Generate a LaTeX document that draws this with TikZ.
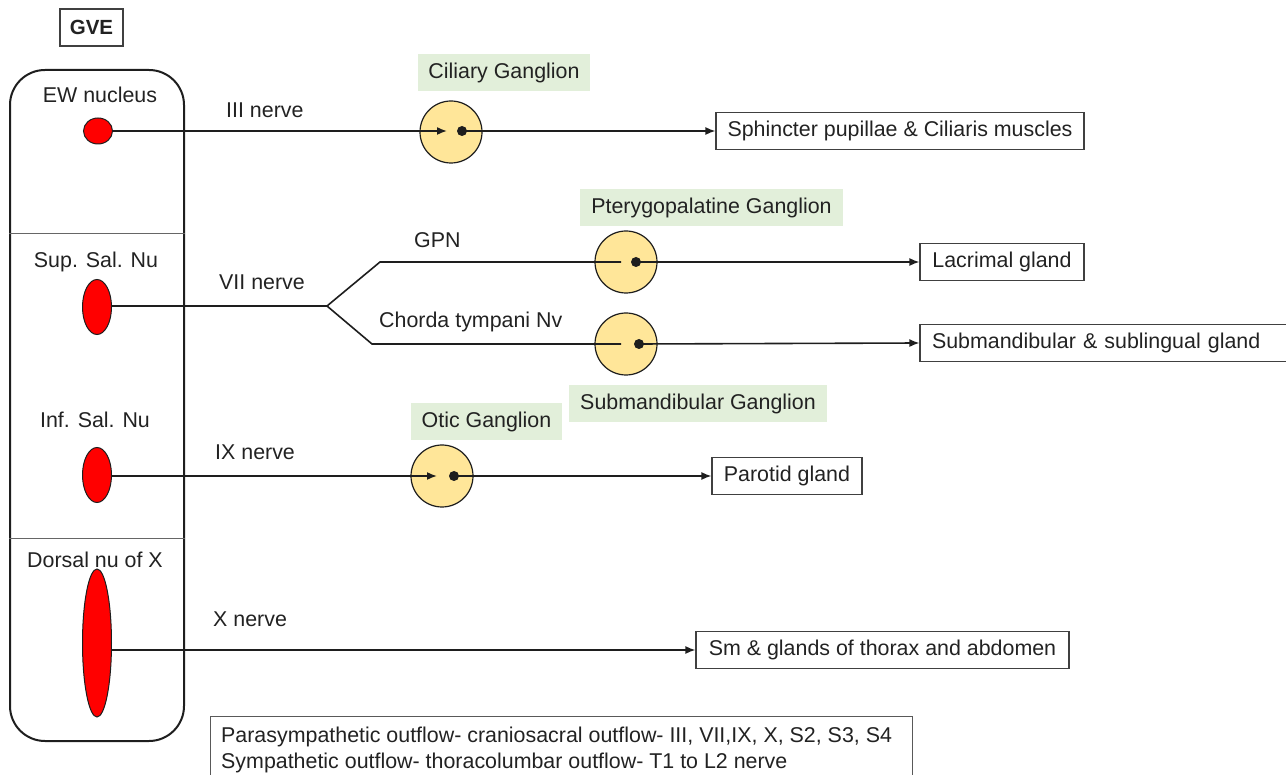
\documentclass[tikz,border=0pt]{standalone}
\usepackage{fontspec}
\setmainfont{Liberation Sans}
\usetikzlibrary{arrows.meta,shapes.geometric}
\definecolor{txt}{HTML}{222222}
\definecolor{lbl}{HTML}{E2EFDA}
\definecolor{gangfill}{HTML}{FFE699}
\definecolor{nred}{HTML}{FF0000}
\definecolor{ln}{HTML}{1E1E1E}
\begin{document}
\begin{tikzpicture}[x=1pt,y=-1pt,
  font=\fontsize{21.4}{25}\selectfont, text=txt,
  lab/.style={inner sep=0pt},
  outbox/.style={draw=ln!85, line width=1.1pt, inner sep=0pt, minimum height=37pt},
  glabel/.style={fill=lbl, inner sep=0pt, minimum height=37pt},
  gang/.style={circle, draw=ln, fill=gangfill, line width=1.2pt, minimum size=62pt, inner sep=0pt},
  nuc/.style={ellipse, draw=ln, fill=nred, line width=1pt, inner sep=0pt, minimum width=29pt},
  nerve/.style={line width=1.6pt, draw=ln},
  arr/.style={nerve, -{Latex[length=10pt,width=8pt]}},
  dotc/.style={circle, fill=ln, inner sep=0pt, minimum size=10pt},
  divider/.style={draw=black!60, line width=1pt}
]
\useasboundingbox (0,0) rectangle (1286,775);

% GVE box
\node[outbox, minimum width=63pt, font=\fontsize{20.5}{24}\selectfont\bfseries] (gve) at (91.5,27.5) {GVE};

% left panel
\node[draw=ln, line width=2pt, rounded corners=35pt, minimum width=174pt, minimum height=671pt, inner sep=0pt] (panel) at (97,405.5) {};
\draw[divider] (panel.west |- 0,234) -- (panel.east |- 0,234);
\draw[divider] (panel.west |- 0,538) -- (panel.east |- 0,538);

% nucleus labels
\node[lab, anchor=base] (ewl) at (100,103) {EW nucleus};
\node[lab, anchor=base] (supl) at (96,268) {Sup. Sal. Nu};
\node[lab, anchor=base] (infl) at (95,428) {Inf. Sal. Nu};
\node[lab, anchor=base] (dxl) at (95,567) {Dorsal nu of X};

% nuclei
\node[nuc, minimum height=26pt] (ew) at (98,131) {};
\node[nuc, minimum height=55pt] (sup) at (97,307) {};
\node[nuc, minimum height=55pt] (inf) at (97,475) {};
\node[nuc, minimum height=148pt] (dx) at (97,643) {};

% nerve labels
\node[lab, anchor=base west] (n3) at (226,118) {III nerve};
\node[lab, anchor=base west] (n7) at (219,290) {VII nerve};
\node[lab, anchor=base west] (gpn) at (414,248) {GPN};
\node[lab, anchor=base west] (ct) at (379,328) {Chorda tympani Nv};
\node[lab, anchor=base west] (n9) at (215,460) {IX nerve};
\node[lab, anchor=base west] (n10) at (213,626) {X nerve};

% ganglion labels
\node[glabel, minimum width=172pt] (cgl) at (504,73) {Ciliary Ganglion};
\node[glabel, minimum width=263pt] (ptgl) at (711.5,207.5) {Pterygopalatine Ganglion};
\node[glabel, minimum width=258pt] (smgl) at (698,403.5) {Submandibular Ganglion};
\node[glabel, minimum width=151pt] (otl) at (486.5,421.5) {Otic Ganglion};

% ganglia
\node[gang] (cg) at (451,132) {};
\node[gang] (ptg) at (626,262) {};
\node[gang] (smg) at (626,344) {};
\node[gang] (ot) at (442,476) {};

% target boxes
\node[outbox, minimum width=368pt] (sph) at (900,131) {Sphincter pupillae \& Ciliaris muscles};
\node[outbox, minimum width=164pt] (lac) at (1002,262) {Lacrimal gland};
\node[outbox, minimum width=374pt, text width=350pt, align=left] (sub) at (1107,343) {Submandibular \& sublingual gland};
\node[outbox, minimum width=150pt] (par) at (787,476) {Parotid gland};
\node[outbox, minimum width=373pt] (sm) at (882.5,650) {Sm \& glands of thorax and abdomen};

% row 1
\coordinate (cgin) at (447,131);
\node[dotc] (cgdot) at (462,131) {};
\draw[arr] (ew.east) -- (cgin);
\draw[arr] (cgdot.center) -- (sph.west);

% row 2
\coordinate (br) at (327,306);
\coordinate (gpns) at (380,262);
\coordinate (cts) at (372,344);
\coordinate (ptgin) at (621,262);
\coordinate (smgin) at (621,344);
\node[dotc] (ptgdot) at (636,262) {};
\node[dotc] (smgdot) at (639,344) {};
\draw[nerve] (sup.east |- br) -- (br);
\draw[nerve, line join=miter] (ptgin) -- (gpns) -- (br) -- (cts) -- (smgin);
\draw[arr] (ptgdot.center) -- (lac.west);
\draw[arr] (smgdot.center) -- (sub.west);

% row 3
\coordinate (otin) at (437,476);
\node[dotc] (otdot) at (454,476) {};
\draw[arr] (inf.east |- otin) -- (otin);
\draw[arr] (otdot.center) -- (par.west);

% row 4
\draw[arr] (dx.east |- sm.west) -- (sm.west);

% note box
\node[draw=black!65, line width=1.1pt, minimum width=702pt, minimum height=80pt, anchor=north west, inner sep=0pt] (note) at (210,716) {};
\node[lab, anchor=base west] (note1) at (221,742) {Parasympathetic outflow- craniosacral outflow- III, VII,IX, X, S2, S3, S4};
\node[lab, anchor=base west] (note2) at (221,768) {Sympathetic outflow- thoracolumbar outflow- T1 to L2 nerve};
\end{tikzpicture}
\end{document}
